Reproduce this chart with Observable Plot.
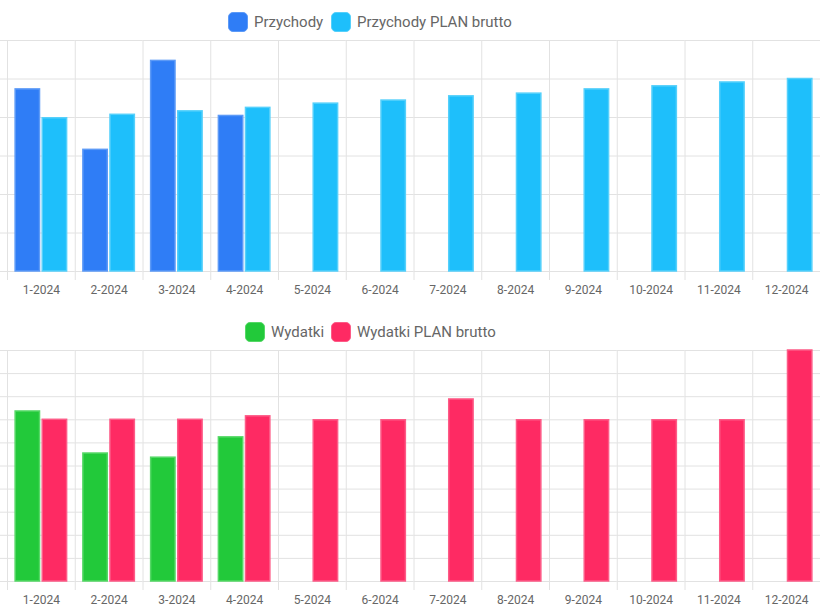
<!DOCTYPE html>
<html><head><meta charset="utf-8">
<script src="https://cdn.jsdelivr.net/npm/d3@7"></script>
<script src="https://cdn.jsdelivr.net/npm/@observablehq/plot@0.6"></script>
<style>
body{margin:0;background:#fff;font-family:Roboto,sans-serif;}
#root{position:relative;width:820px;height:613px;overflow:hidden;background:#fff;}
.leg{position:absolute;display:flex;align-items:center;font-size:15px;color:#666;white-space:nowrap;height:20px;line-height:20px}
.sw{width:20px;height:20px;border-radius:5px;margin-right:6px;box-sizing:border-box}
.panel{position:absolute;left:0}
</style></head><body><div id="root"></div><script>
const months = ["1-2024","2-2024","3-2024","4-2024","5-2024","6-2024","7-2024","8-2024","9-2024","10-2024","11-2024","12-2024"];
// Top panel: revenue
const przychody = [47300, 31600, 54700, 40400, null, null, null, null, null, null, null, null];
const przychodyPlan = [39800, 40700, 41600, 42500, 43600, 44400, 45500, 46200, 47300, 48100, 49100, 50000];
const yTicksTop = [0, 10000, 20000, 30000, 40000, 50000, 60000];
// Bottom panel: expenses
const wydatki = [36800, 27700, 26800, 31200, null, null, null, null, null, null, null, null];
const wydatkiPlan = [35000, 35000, 35000, 35750, 34900, 34900, 39400, 34900, 34900, 34900, 34900, 50000];
const yTicksBottom = [0, 5000, 10000, 15000, 20000, 25000, 30000, 35000, 40000, 45000, 50000];

const root = document.getElementById("root");
const GRID = "#e2e2e2";

function legend(items, top) {
  for (const it of items) {
    const d = document.createElement("div");
    d.className = "leg";
    d.style.left = it.left + "px";
    d.style.top = top + "px";
    const sw = document.createElement("div");
    sw.className = "sw";
    sw.style.background = it.fill;
    sw.style.border = "1px solid " + it.stroke;
    const t = document.createElement("span");
    t.textContent = it.name;
    d.appendChild(sw); d.appendChild(t);
    root.appendChild(d);
  }
}

function panel(series, yTicks, top) {
  const names = series.map(s => s.name);
  const marks = [
    Plot.gridY(yTicks, {stroke: GRID, strokeOpacity: 1}),
    Plot.axisY(yTicks, {anchor: "left", tickSize: 7, tickFormat: () => "", stroke: GRID, strokeOpacity: 1, label: null}),
    Plot.frame({anchor: "left", insetBottom: -8, stroke: GRID, strokeOpacity: 1}),
    Plot.axisFx({anchor: "bottom", tickSize: 0, tickPadding: 14, fontSize: 12, fill: "#666", label: null})
  ];
  for (const s of series) {
    const data = months.map((m, i) => ({month: m, series: s.name, value: s.values[i]})).filter(d => d.value != null);
    marks.push(Plot.barY(data, {fx: "month", x: "series", y: "value", fill: s.fill, stroke: s.stroke, strokeWidth: 1.5}));
  }
  const svg = Plot.plot({
    width: 820, height: 280,
    marginTop: 10, marginBottom: 39, marginLeft: 7, marginRight: 0,
    facet: {marginLeft: 7, marginRight: 0},
    fx: {domain: months, padding: 0, round: false, label: null},
    x: {domain: names, paddingInner: 0.1, paddingOuter: 0.3, round: false, axis: null},
    y: {domain: [yTicks[0], yTicks[yTicks.length - 1]], axis: null},
    style: {fontFamily: "Roboto, sans-serif", fontSize: "12px", color: "#666", background: "transparent", overflow: "visible"},
    marks
  });
  svg.classList.add("panel");
  svg.style.top = top + "px";
  root.appendChild(svg);
}

const topSeries = [
  {name: "Przychody", values: przychody, fill: "#2f7df6", stroke: "#5c9af7"},
  {name: "Przychody PLAN brutto", values: przychodyPlan, fill: "#1ebffb", stroke: "#55d0fb"}
];
const botSeries = [
  {name: "Wydatki", values: wydatki, fill: "#22c93a", stroke: "#55d866"},
  {name: "Wydatki PLAN brutto", values: wydatkiPlan, fill: "#fe2a63", stroke: "#fd5b87"}
];

legend([{name: topSeries[0].name, fill: topSeries[0].fill, stroke: topSeries[0].stroke, left: 228},
        {name: topSeries[1].name, fill: topSeries[1].fill, stroke: topSeries[1].stroke, left: 331}], 12);
panel(topSeries, yTicksTop, 30);
legend([{name: botSeries[0].name, fill: botSeries[0].fill, stroke: botSeries[0].stroke, left: 245},
        {name: botSeries[1].name, fill: botSeries[1].fill, stroke: botSeries[1].stroke, left: 331}], 322);
panel(botSeries, yTicksBottom, 340);
</script></body></html>
